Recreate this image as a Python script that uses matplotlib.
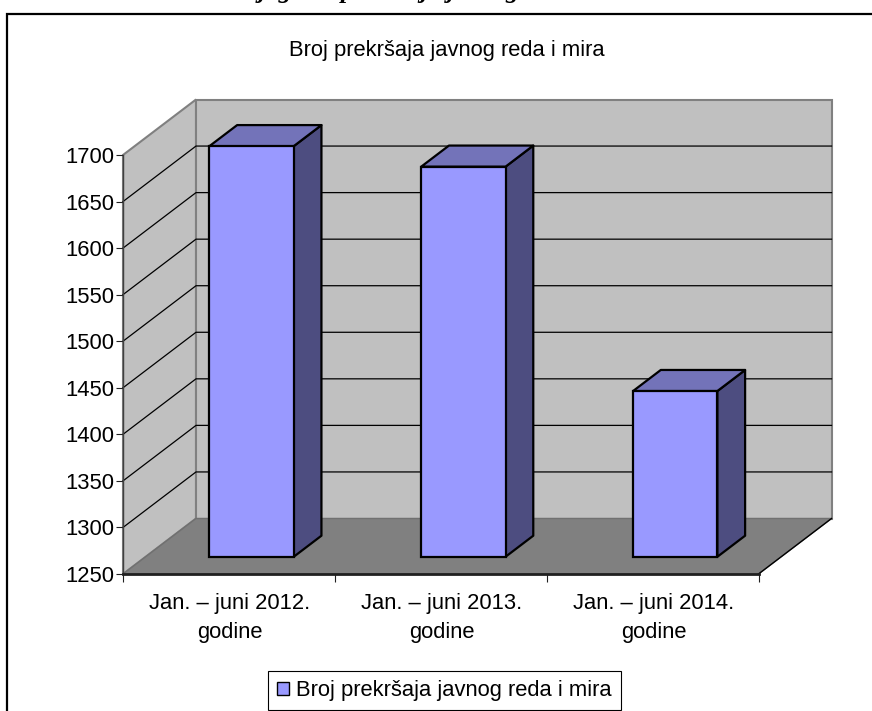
import matplotlib
matplotlib.use('Agg')
import matplotlib.pyplot as plt
from matplotlib.patches import Polygon, Rectangle, Patch

plt.rcParams['font.family'] = ['Liberation Sans', 'DejaVu Sans']

# data
categories = ['Jan. – juni 2012.\ngodine', 'Jan. – juni 2013.\ngodine', 'Jan. – juni 2014.\ngodine']
values = [1691, 1669, 1428]
y_ticks = [1250, 1300, 1350, 1400, 1450, 1500, 1550, 1600, 1650, 1700]
series_name = 'Broj prekršaja javnog reda i mira'
chart_title = 'Broj prekršaja javnog reda i mira'
page_caption = 'Dijagram prekršaja javnog reda i mira'

W, H = 872, 711
fig = plt.figure(figsize=(W / 100, H / 100), dpi=100, facecolor='white')

# front plane of the 3d box, in pixels of the picture
ax = fig.add_axes([123 / W, 1 - 574 / H, (758.5 - 123) / W, (574 - 155) / H])
ax.set_xlim(0, 3)
ax.set_ylim(1250, 1700)
ax.patch.set_visible(False)

# oblique offset of the back wall, in data units
DX = 73 / (635.5 / 3)
DY = 55.5 / (419 / 450)
BAR_W = 0.398
D0, D1 = 0.31, 0.69


def proj(x, y, d):
    return (x + d * DX, y + d * DY)


def poly(pts, **kw):
    kw.setdefault('clip_on', False)
    ax.add_patch(Polygon([proj(*p) for p in pts], closed=True, **kw))


ymin, ymax = y_ticks[0], y_ticks[-1]
# walls and floor
poly([(0, ymin, 0), (0, ymin, 1), (0, ymax, 1), (0, ymax, 0)], fc='#c0c0c0', ec='#808080', lw=1.5, zorder=1)
poly([(0, ymin, 1), (3, ymin, 1), (3, ymax, 1), (0, ymax, 1)], fc='#c0c0c0', ec='#808080', lw=1.5, zorder=1)
poly([(0, ymin, 0), (3, ymin, 0), (3, ymin, 1), (0, ymin, 1)], fc='#808080', ec='#707070', lw=1, zorder=1.1)

# gridlines over walls
for t in y_ticks[1:-1]:
    xs, ys = zip(proj(0, t, 0), proj(0, t, 1), proj(3, t, 1))
    ax.plot(xs, ys, color='black', lw=0.9, zorder=1.5, clip_on=False)
xs, ys = zip(proj(3, ymin, 0), proj(3, ymin, 1))
ax.plot(xs, ys, color='black', lw=1, zorder=1.5, clip_on=False)

# bars
for i, v in enumerate(values):
    x0 = i + 0.5 - BAR_W / 2
    x1 = x0 + BAR_W
    poly([(x1, ymin, D0), (x1, ymin, D1), (x1, v, D1), (x1, v, D0)],
         fc='#4d4d80', ec='black', lw=1.6, joinstyle='round', zorder=3)
    poly([(x0, v, D0), (x1, v, D0), (x1, v, D1), (x0, v, D1)],
         fc='#7373b9', ec='black', lw=1.6, joinstyle='round', zorder=3)
bar_x = [i + 0.5 + D0 * DX for i in range(len(values))]
ax.bar(bar_x, [v - ymin for v in values], width=BAR_W, bottom=ymin + D0 * DY,
       color='#9999ff', edgecolor='black', linewidth=1.6, zorder=4, clip_on=False)

# axes
for s in ['top', 'right']:
    ax.spines[s].set_visible(False)
ax.spines['left'].set_color('#404040')
ax.spines['left'].set_linewidth(1)
ax.spines['bottom'].set_color('#202020')
ax.spines['bottom'].set_linewidth(2)
ax.spines['left'].set_zorder(5)
ax.spines['bottom'].set_zorder(5)
ax.set_yticks(y_ticks)
ax.tick_params(axis='y', labelsize=15.8, length=5.2, width=0.8, color='#202020', pad=1)
ax.set_xticks([0, 1, 2, 3])
ax.set_xticklabels([])
ax.tick_params(axis='x', length=5.5, width=0.8, color='#202020')
ax.set_xticks([0.505, 1.505, 2.505], minor=True)
ax.set_xticklabels(categories, minor=True, fontsize=15.8, linespacing=1.46)
ax.tick_params(axis='x', which='minor', length=0, pad=14)

# titles
fig.text(447 / W, 1 - 56 / H, chart_title, ha='center', va='baseline', fontsize=15.8, color='black')
fig.text(438 / W, 1 + 2 / H, page_caption, ha='center', va='baseline', fontsize=18.5,
         family='Liberation Serif', weight='bold', style='italic', color='black')

# legend
handle = Patch(facecolor='#9999ff', edgecolor='black', linewidth=1, label=series_name)
leg = fig.legend(handles=[handle], loc='center', bbox_to_anchor=(444.5 / W, 1 - 690.5 / H), fontsize=15.8,
                 fancybox=False, framealpha=1, edgecolor='black', handlelength=0.55, handleheight=0.55,
                 handletextpad=0.3, borderpad=0.42, borderaxespad=0)
leg.get_frame().set_linewidth(0.8)

# page frame, runs off the right and bottom of the picture
fig.add_artist(Rectangle((7 / W, -0.1), 1, 1.1 - 14.5 / H, transform=fig.transFigure, fill=False,
                         ec='black', lw=1.6, clip_on=False))

fig.savefig('out.png', dpi=100)
